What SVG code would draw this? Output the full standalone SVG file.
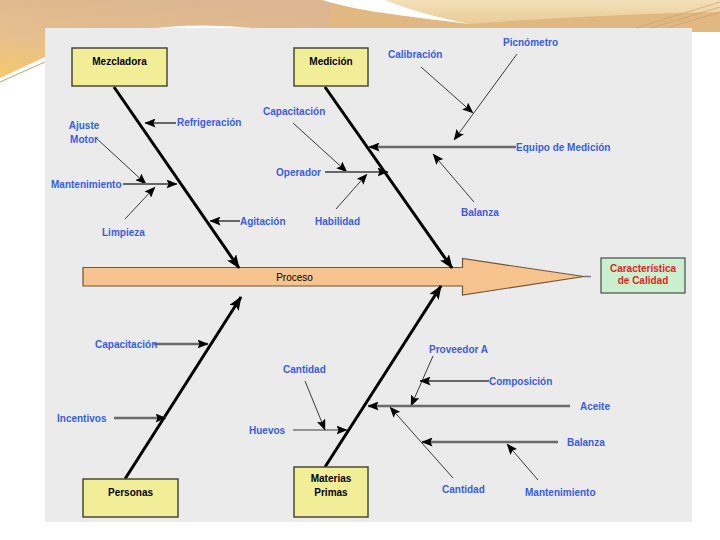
<svg xmlns="http://www.w3.org/2000/svg" width="720" height="540" viewBox="0 0 720 540">
<defs>
<linearGradient id="band" x1="0" y1="1" x2="0.5" y2="0">
<stop offset="0" stop-color="#f6c86c"/>
<stop offset="0.45" stop-color="#e6bf8e"/>
<stop offset="1" stop-color="#dcb690"/>
</linearGradient>
<linearGradient id="bandR" x1="0" y1="0" x2="0" y2="1">
<stop offset="0" stop-color="#f3e0b8"/>
<stop offset="1" stop-color="#e9cc98"/>
</linearGradient>
<marker id="big" viewBox="0 0 14 11" refX="13" refY="5.5" markerWidth="14" markerHeight="11" markerUnits="userSpaceOnUse" orient="auto">
<path d="M0,0 L14,5.5 L0,11 L3,5.5 Z" fill="#000"/>
</marker>
<marker id="ah" viewBox="0 0 11 9" refX="10.5" refY="4.5" markerWidth="11" markerHeight="9" markerUnits="userSpaceOnUse" orient="auto">
<path d="M0,0 L11,4.5 L0,9 L2,4.5 Z" fill="#000"/>
</marker>
<style>
.lbl{font-family:"Liberation Sans",Arial,sans-serif;font-size:10px;font-weight:bold;fill:#3a5ce0}
.box{fill:#f2ee98;stroke:#4a4a38;stroke-width:1.5}
.btxt{font-family:"Liberation Sans",Arial,sans-serif;font-size:10px;font-weight:bold;fill:#000;text-anchor:middle}
.bone{stroke:#000;stroke-width:3;fill:none;marker-end:url(#big)}
.thin{stroke:#3a3a3a;stroke-width:1;fill:none;marker-end:url(#ah)}
.mid{stroke:#666;stroke-width:2;fill:none;marker-end:url(#ah)}
.thick{stroke:#6a6a6a;stroke-width:2.6;fill:none;marker-end:url(#ah)}
</style>
</defs>
<!-- slide background -->
<rect x="0" y="0" width="720" height="540" fill="#ffffff"/>
<path d="M0,0 H720 V32 H0 Z" fill="#e2b882"/>
<path d="M0,0 H330 L330,30 L45,30 L45,57 L0,78 Z" fill="url(#band)"/>
<path d="M385,0 H720 V12 Q600,14 470,24 Q420,14 385,0 Z" fill="url(#bandR)"/>
<path d="M322,0 L385,0 Q420,14 470,24 Q410,17 370,11 Q342,6 322,0 Z" fill="#ffffff"/>
<path d="M140,30 Q200,21 272,30 Z" fill="#ffffff"/>
<path d="M0,83 L45,62 L45,540 L0,540 Z" fill="#ffffff"/>
<path d="M0,82 L45,62" stroke="#a8865e" stroke-width="0.8" fill="none"/>
<path d="M692,32 H720 V540 H692 Z" fill="#ffffff"/>
<g stroke="#c49a6a" stroke-width="0.6" fill="none">
<path d="M636,28 L720,2"/>
<path d="M648,29 L720,7"/>
<path d="M660,30 L720,12"/>
</g>
<!-- panel -->
<rect x="45" y="28" width="647" height="494" fill="#ebebeb"/>

<!-- main process arrow -->
<g id="proceso">
<path d="M83,267.5 H462.5 V258.5 L584,276.5 L462.5,295 V286 H83 Z" fill="#f7c38f" stroke="#6e5638" stroke-width="1.2"/>
<path d="M584,276.5 L591,276.5" stroke="#777" stroke-width="1.5"/>
<text x="294.5" y="281" font-family="'Liberation Sans',Arial,sans-serif" font-size="10" fill="#000" text-anchor="middle">Proceso</text>
</g>

<!-- connectors -->
<g id="connectors">
<line class="bone" x1="114" y1="87" x2="239" y2="268"/>
<line class="bone" x1="325" y1="87" x2="452" y2="268"/>
<line class="bone" x1="125" y1="479" x2="241" y2="297"/>
<line class="bone" x1="325" y1="467" x2="441" y2="286"/>
<!-- Mezcladora -->
<line class="mid" x1="176" y1="123" x2="145" y2="123"/>
<line class="thin" x1="95" y1="137" x2="146" y2="184"/>
<line class="mid" x1="123" y1="184" x2="177" y2="184"/>
<line class="thin" x1="125" y1="219" x2="155" y2="187"/>
<line class="mid" x1="240" y1="221" x2="210" y2="221"/>
<!-- Medición -->
<line class="thin" x1="293" y1="123" x2="347" y2="172"/>
<line class="mid" x1="325" y1="172" x2="388" y2="172"/>
<line class="thin" x1="336" y1="209" x2="367" y2="174"/>
<line class="thick" x1="516" y1="147" x2="369" y2="147"/>
<line class="thin" x1="421" y1="67" x2="473" y2="113"/>
<line class="thin" x1="517" y1="54" x2="454" y2="140"/>
<line class="thin" x1="474" y1="202" x2="433" y2="154"/>
<!-- Personas -->
<line class="thick" x1="154" y1="344" x2="208" y2="344"/>
<line class="thick" x1="114" y1="418" x2="166" y2="418"/>
<!-- Materias Primas -->
<line class="thin" x1="433" y1="356" x2="411" y2="406"/>
<line class="mid" x1="489" y1="381" x2="420" y2="381"/>
<line class="thick" x1="570" y1="406" x2="368" y2="406"/>
<line class="thin" x1="305" y1="381" x2="325" y2="430"/>
<line class="thin" x1="293" y1="430" x2="347" y2="430"/>
<line class="thick" x1="558" y1="442" x2="422" y2="442"/>
<line class="thin" x1="453" y1="478" x2="390" y2="407"/>
<line class="thin" x1="538" y1="480" x2="507" y2="444"/>
</g>

<!-- category nodes -->
<g id="mezcladora">
<rect class="box" x="72" y="48" width="95" height="38"/>
<text class="btxt" x="119.5" y="65">Mezcladora</text>
</g>
<g id="medicion">
<rect class="box" x="294" y="48" width="74" height="38"/>
<text class="btxt" x="331" y="65">Medición</text>
</g>
<g id="personas">
<rect class="box" x="83" y="479" width="95" height="38"/>
<text class="btxt" x="130.5" y="495.5">Personas</text>
</g>
<g id="materias">
<rect class="box" x="294" y="467" width="74" height="50"/>
<text class="btxt" x="331" y="481.5">Materias</text>
<text class="btxt" x="331" y="495.5">Primas</text>
</g>
<g id="calidad">
<rect x="601" y="258" width="84" height="35" fill="#c9efcf" stroke="#4a4a4a" stroke-width="1.2"/>
<text x="643" y="272" font-family="'Liberation Sans',Arial,sans-serif" font-size="10" font-weight="bold" fill="#e41e1e" text-anchor="middle">Característica</text>
<text x="643" y="284" font-family="'Liberation Sans',Arial,sans-serif" font-size="10" font-weight="bold" fill="#e41e1e" text-anchor="middle">de Calidad</text>
</g>

<!-- cause labels -->
<g id="labels">
<text class="lbl" x="177" y="126">Refrigeración</text>
<text class="lbl" x="84" y="129" text-anchor="middle">Ajuste</text>
<text class="lbl" x="84" y="143" text-anchor="middle">Motor</text>
<text class="lbl" x="51" y="188">Mantenimiento</text>
<text class="lbl" x="102" y="235.5">Limpieza</text>
<text class="lbl" x="240" y="224.5">Agitación</text>
<text class="lbl" x="263" y="114.5">Capacitación</text>
<text class="lbl" x="276" y="175.5">Operador</text>
<text class="lbl" x="315" y="224.5">Habilidad</text>
<text class="lbl" x="516" y="151">Equipo de Medición</text>
<text class="lbl" x="388" y="57.5">Calibración</text>
<text class="lbl" x="503" y="45.5">Picnómetro</text>
<text class="lbl" x="461" y="215.5">Balanza</text>
<text class="lbl" x="95" y="347.5">Capacitación</text>
<text class="lbl" x="57" y="421.5">Incentivos</text>
<text class="lbl" x="429" y="353">Proveedor A</text>
<text class="lbl" x="489" y="384.5">Composición</text>
<text class="lbl" x="580" y="409.5">Aceite</text>
<text class="lbl" x="283" y="372.5">Cantidad</text>
<text class="lbl" x="249" y="433.5">Huevos</text>
<text class="lbl" x="567" y="446">Balanza</text>
<text class="lbl" x="442" y="492.5">Cantidad</text>
<text class="lbl" x="525" y="495.5">Mantenimiento</text>
</g>
</svg>
